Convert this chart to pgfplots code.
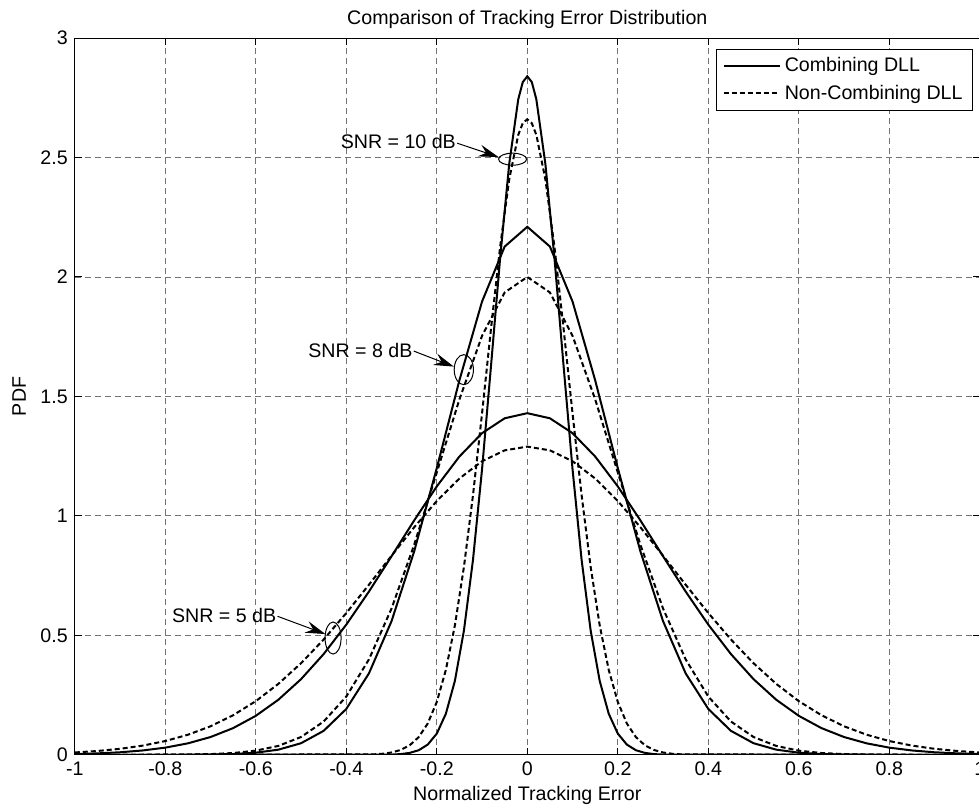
\documentclass[border=0pt]{standalone}
\usepackage{fontspec}
\setmainfont{Liberation Sans}
\usepackage{pgfplots}
\pgfplotsset{compat=1.18}
\usetikzlibrary{arrows.meta}
\begin{document}
\begin{tikzpicture}
\useasboundingbox (-37.35pt,-28pt) rectangle (451.6pt,377pt);
\begin{scope}
\clip (-37.35pt,-28pt) rectangle (451.6pt,377pt);
\begin{axis}[
  at={(0pt,0pt)}, anchor=south west,
  scale only axis, width=452pt, height=358pt,
  xmin=-1, xmax=1, ymin=0, ymax=3,
  xtick={-1,-0.8,-0.6,-0.4,-0.2,0,0.2,0.4,0.6,0.8,1},
  ytick={0,0.5,1,1.5,2,2.5,3},
  font=\fontsize{9.8}{11}\selectfont,
  /pgf/number format/assume math mode=true,
  tick align=inside, major tick length=3.5pt,
  tick style={black, line width=0.5pt},
  axis line style={line width=0.5pt},
  grid=major,
  major grid style={black!55, line width=0.45pt, dash pattern=on 3pt off 2pt},
  title={Comparison of Tracking Error Distribution},
  title style={at={(axis description cs:0.5,1)}, anchor=base, inner sep=0pt, yshift=1pt},
  xlabel={Normalized Tracking Error},
  xlabel style={at={(axis description cs:0.5,-0.0642)}, anchor=base, inner sep=0pt},
  ylabel={PDF},
  ylabel style={at={(axis description cs:-0.0616,0.5)}, anchor=center, inner sep=0pt},
  legend cell align=left,
  legend style={at={(rel axis cs:0.99259,0.98464)}, anchor=north east,
    draw=black, line width=0.5pt, inner xsep=3pt, inner ysep=2pt, row sep=1pt,
    font=\fontsize{9.8}{11}\selectfont},
  legend image code/.code={\draw[#1] (0pt,0pt) -- (28pt,0pt);},
]
% SNR = 10 dB, combining
\addplot[black, line width=1pt] coordinates {
(-1,0) (-0.30,0.0012) (-0.28,0.0032) (-0.26,0.0082) (-0.24,0.0194) (-0.22,0.0430)
(-0.20,0.0890) (-0.18,0.1719) (-0.16,0.3096) (-0.14,0.5206) (-0.12,0.8165)
(-0.10,1.1951) (-0.08,1.6319) (-0.06,2.0797) (-0.04,2.4727) (-0.02,2.7434) (-0.01,2.8155)
(0,2.84)
(0.01,2.8155) (0.02,2.7434) (0.04,2.4727) (0.06,2.0797) (0.08,1.6319) (0.10,1.1951)
(0.12,0.8165) (0.14,0.5206) (0.16,0.3096) (0.18,0.1719) (0.20,0.0890) (0.22,0.0430)
(0.24,0.0194) (0.26,0.0082) (0.28,0.0032) (0.30,0.0012) (1,0)
};
\addlegendentry{Combining DLL}
% SNR = 10 dB, non-combining
\addplot[black, line width=1pt, dash pattern=on 2.5pt off 1.5pt] coordinates {
(-1,0) (-0.34,0.0020) (-0.32,0.0046) (-0.30,0.0099) (-0.28,0.0204) (-0.26,0.0399)
(-0.24,0.0742) (-0.22,0.1314) (-0.20,0.2215) (-0.18,0.3552) (-0.16,0.5420)
(-0.14,0.7869) (-0.12,1.0870) (-0.10,1.4288) (-0.08,1.7872) (-0.06,2.1268)
(-0.04,2.4082) (-0.02,2.5947) (-0.01,2.6435) (0,2.66)
(0.01,2.6435) (0.02,2.5947) (0.04,2.4082) (0.06,2.1268) (0.08,1.7872) (0.10,1.4288)
(0.12,1.0870) (0.14,0.7869) (0.16,0.5420) (0.18,0.3552) (0.20,0.2215) (0.22,0.1314)
(0.24,0.0742) (0.26,0.0399) (0.28,0.0204) (0.30,0.0099) (0.32,0.0046) (0.34,0.0020) (1,0)
};
\addlegendentry{Non-Combining DLL}
% SNR = 8 dB, combining
\addplot[black, line width=1pt, forget plot] coordinates {
(-1,0) (-0.80,0.0001) (-0.70,0.0012) (-0.65,0.0035) (-0.60,0.0091) (-0.55,0.0218)
(-0.50,0.0487) (-0.45,0.1005) (-0.40,0.1922) (-0.35,0.3408) (-0.30,0.5596)
(-0.25,0.8514) (-0.20,1.2003) (-0.15,1.5677) (-0.10,1.8972) (-0.05,2.1273) (0,2.21)
(0.05,2.1273) (0.10,1.8972) (0.15,1.5677) (0.20,1.2003) (0.25,0.8514) (0.30,0.5596)
(0.35,0.3408) (0.40,0.1922) (0.45,0.1005) (0.50,0.0487) (0.55,0.0218) (0.60,0.0091)
(0.65,0.0035) (0.70,0.0012) (0.80,0.0001) (1,0)
};
% SNR = 8 dB, non-combining
\addplot[black, line width=1pt, dash pattern=on 2.5pt off 1.5pt, forget plot] coordinates {
(-1,0) (-0.85,0.0001) (-0.75,0.0012) (-0.70,0.0032) (-0.65,0.0077) (-0.60,0.0176)
(-0.55,0.0375) (-0.50,0.0747) (-0.45,0.1395) (-0.40,0.2440) (-0.35,0.3995)
(-0.30,0.6124) (-0.25,0.8792) (-0.20,1.1820) (-0.15,1.4878) (-0.10,1.7536)
(-0.05,1.9353) (0,2.0)
(0.05,1.9353) (0.10,1.7536) (0.15,1.4878) (0.20,1.1820) (0.25,0.8792) (0.30,0.6124)
(0.35,0.3995) (0.40,0.2440) (0.45,0.1395) (0.50,0.0747) (0.55,0.0375) (0.60,0.0176)
(0.65,0.0077) (0.70,0.0032) (0.75,0.0012) (0.85,0.0001) (1,0)
};
% SNR = 5 dB, combining
\addplot[black, line width=1pt, forget plot] coordinates {
(-1,0.0034) (-0.95,0.0062) (-0.90,0.0108) (-0.85,0.0184) (-0.80,0.0302) (-0.75,0.0482)
(-0.70,0.0746) (-0.65,0.1120) (-0.60,0.1633) (-0.55,0.2309) (-0.50,0.3168)
(-0.45,0.4219) (-0.40,0.5451) (-0.35,0.6833) (-0.30,0.8312) (-0.25,0.9811)
(-0.20,1.1236) (-0.15,1.2486) (-0.10,1.3463) (-0.05,1.4086) (0,1.43)
(0.05,1.4086) (0.10,1.3463) (0.15,1.2486) (0.20,1.1236) (0.25,0.9811) (0.30,0.8312)
(0.35,0.6833) (0.40,0.5451) (0.45,0.4219) (0.50,0.3168) (0.55,0.2309) (0.60,0.1633)
(0.65,0.1120) (0.70,0.0746) (0.75,0.0482) (0.80,0.0302) (0.85,0.0184) (0.90,0.0108)
(0.95,0.0062) (1,0.0034)
};
% SNR = 5 dB, non-combining
\addplot[black, line width=1pt, dash pattern=on 2.5pt off 1.5pt, forget plot] coordinates {
(-1,0.0101) (-0.95,0.0162) (-0.90,0.0253) (-0.85,0.0387) (-0.80,0.0578) (-0.75,0.0842)
(-0.70,0.1196) (-0.65,0.1660) (-0.60,0.2248) (-0.55,0.2973) (-0.50,0.3835)
(-0.45,0.4829) (-0.40,0.5935) (-0.35,0.7119) (-0.30,0.8335) (-0.25,0.9525)
(-0.20,1.0624) (-0.15,1.1566) (-0.10,1.2289) (-0.05,1.2744) (0,1.29)
(0.05,1.2744) (0.10,1.2289) (0.15,1.1566) (0.20,1.0624) (0.25,0.9525) (0.30,0.8335)
(0.35,0.7119) (0.40,0.5935) (0.45,0.4829) (0.50,0.3835) (0.55,0.2973) (0.60,0.2248)
(0.65,0.1660) (0.70,0.1196) (0.75,0.0842) (0.80,0.0578) (0.85,0.0387) (0.90,0.0253)
(0.95,0.0162) (1,0.0101)
};
% annotations
\node[anchor=east, inner sep=0pt] at (axis cs:-0.157,2.568) {SNR = 10 dB};
\draw[line width=0.5pt, -{Stealth[length=10pt,width=6pt,inset=3.5pt]}] (axis cs:-0.155,2.560) -- (axis cs:-0.0635,2.502);
\draw[line width=0.5pt] (axis cs:-0.0325,2.493) ellipse [x radius=7pt, y radius=3pt];
\node[anchor=east, inner sep=0pt] at (axis cs:-0.253,1.692) {SNR = 8 dB};
\draw[line width=0.5pt, -{Stealth[length=10pt,width=6pt,inset=3.5pt]}] (axis cs:-0.251,1.690) -- (axis cs:-0.1624,1.625);
\draw[line width=0.5pt] (axis cs:-0.1403,1.612) ellipse [x radius=4.8pt, y radius=7.5pt];
\node[anchor=east, inner sep=0pt] at (axis cs:-0.554,0.582) {SNR = 5 dB};
\draw[line width=0.5pt, -{Stealth[length=10pt,width=6pt,inset=3.5pt]}] (axis cs:-0.552,0.580) -- (axis cs:-0.4462,0.5057);
\draw[line width=0.5pt] (axis cs:-0.4292,0.489) ellipse [x radius=4pt, y radius=8pt];
\end{axis}
\end{scope}
\end{tikzpicture}
\end{document}
